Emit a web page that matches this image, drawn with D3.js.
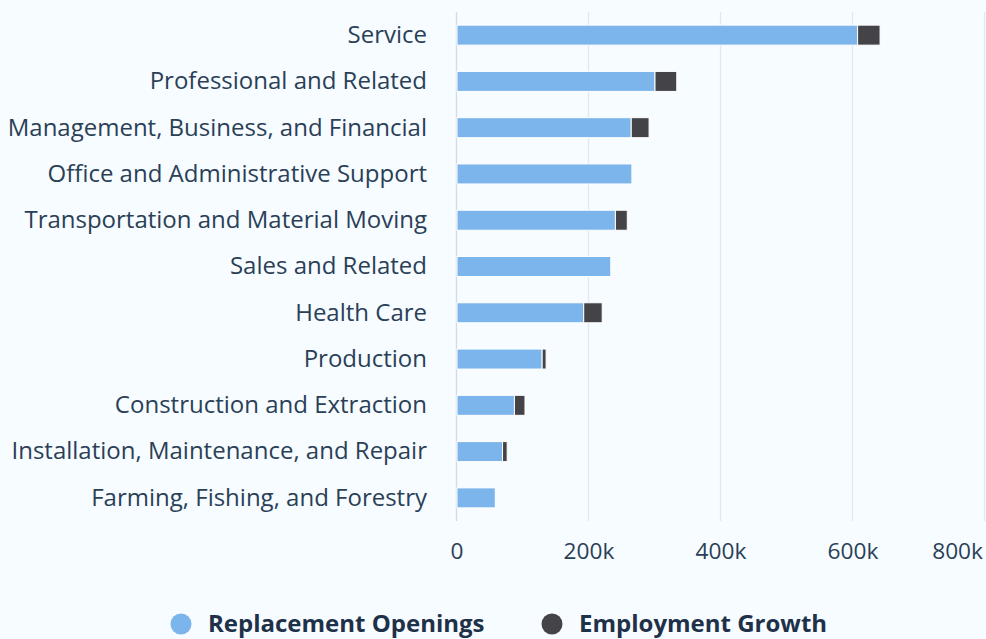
<!DOCTYPE html>
<html>
<head>
<meta charset="utf-8">
<script src="https://cdn.jsdelivr.net/npm/d3@7"></script>
<style>
  html, body { margin: 0; padding: 0; background: #f6fcff; }
  svg { display: block; }
  text { font-family: "Open Sans", "DejaVu Sans", sans-serif; }
</style>
</head>
<body>
<svg id="chart" width="986" height="639"></svg>
<script>
// Occupational groups, top to bottom
const categories = [
  "Service",
  "Professional and Related",
  "Management, Business, and Financial",
  "Office and Administrative Support",
  "Transportation and Material Moving",
  "Sales and Related",
  "Health Care",
  "Production",
  "Construction and Extraction",
  "Installation, Maintenance, and Repair",
  "Farming, Fishing, and Forestry"
];

// Projected openings by source
const replacementOpenings = [607000, 300000, 264000, 265000, 240000, 233000, 192000, 129000, 87000, 69000, 58000];
const employmentGrowth    = [ 34000,  33000,  27000,      0,  18000,      0,  28000,   6000, 16000,  7000,     0];

const seriesNames  = ["Replacement Openings", "Employment Growth"];
const seriesColors = ["#7cb5ec", "#434348"];

const xTicks = [0, 200000, 400000, 600000, 800000];

const svg = d3.select("#chart");

const plot = { left: 457, right: 985, top: 12, bottom: 521 };

const x = d3.scaleLinear().domain([0, 800000]).range([plot.left, plot.right]);
const y = d3.scaleBand().domain(categories).range([plot.top, plot.bottom]).padding(0);
const barH = 20;
const barY = c => y(c) + (y.bandwidth() - barH) / 2;

// Vertical grid lines
svg.append("g")
  .selectAll("line")
  .data(xTicks)
  .join("line")
  .attr("x1", d => Math.round(x(d)) - 0.5)
  .attr("x2", d => Math.round(x(d)) - 0.5)
  .attr("y1", plot.top)
  .attr("y2", plot.bottom)
  .attr("stroke", d => d === 0 ? "#d3dbe6" : "#e4e8ec")
  .attr("stroke-width", 1.3);

// Stacked bars
const rows = categories.map((c, i) => ({
  cat: c,
  segs: [
    { s: 0, x0: 0, x1: replacementOpenings[i] },
    { s: 1, x0: replacementOpenings[i], x1: replacementOpenings[i] + employmentGrowth[i] }
  ]
}));

svg.append("g")
  .selectAll("g")
  .data(rows)
  .join("g")
  .selectAll("rect")
  .data(r => r.segs.filter(d => d.x1 > d.x0).map(d => ({ ...d, cat: r.cat })))
  .join("rect")
  .attr("x", d => x(d.x0))
  .attr("y", d => barY(d.cat))
  .attr("width", d => x(d.x1) - x(d.x0))
  .attr("height", barH)
  .attr("fill", d => seriesColors[d.s])
  .attr("stroke", "#ffffff")
  .attr("stroke-width", 1);

// Category axis labels
svg.append("g")
  .selectAll("text")
  .data(categories)
  .join("text")
  .attr("x", 427)
  .attr("y", c => y(c) + y.bandwidth() / 2 - 0.5)
  .attr("dy", "0.35em")
  .attr("text-anchor", "end")
  .attr("font-size", 24)
  .attr("fill", "#2b3f57")
  .text(c => c);

// Value axis labels
const fmt = d => d === 0 ? "0" : (d / 1000) + "k";
svg.append("g")
  .selectAll("text")
  .data(xTicks)
  .join("text")
  .attr("x", (d, i) => i === xTicks.length - 1 ? x(d) - 2 : x(d))
  .attr("y", 551)
  .attr("dy", "0.35em")
  .attr("text-anchor", (d, i) => i === xTicks.length - 1 ? "end" : "middle")
  .attr("font-size", 22.7)
  .attr("fill", "#2b3f57")
  .text(fmt);

// Legend
const legendItems = [
  { name: seriesNames[0], color: seriesColors[0], cx: 181, tx: 208 },
  { name: seriesNames[1], color: seriesColors[1], cx: 552, tx: 579 }
];
const lg = svg.append("g").selectAll("g").data(legendItems).join("g");
lg.append("circle")
  .attr("cx", d => d.cx)
  .attr("cy", 624)
  .attr("r", 10.5)
  .attr("fill", d => d.color);
lg.append("text")
  .attr("x", d => d.tx)
  .attr("y", 624)
  .attr("dy", "0.35em")
  .attr("font-size", 24)
  .attr("font-weight", "bold")
  .attr("fill", "#1f3149")
  .text(d => d.name);
</script>
</body>
</html>
